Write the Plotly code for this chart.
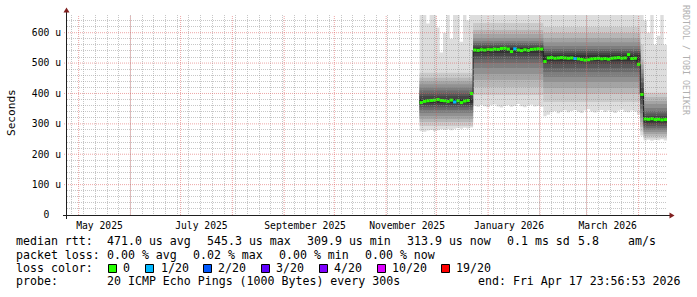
import pandas as pd
import plotly.graph_objects as go

# ---------------- data (in microseconds) ----------------
first_step = "2025-11-21"
step_days = 2

median_us = [370, 374, 376, 377, 378, 380, 377, 376, 374, 378, 372, 376, 370, 375, 377, 400,
             543, 542, 544, 543, 545, 544, 546, 545, 548, 549, 546, 538, 547, 543, 541, 544, 542, 545, 546, 547, 546,
             505, 517, 518, 516, 517, 518, 517, 516, 517, 515, 514, 512, 510, 511, 514, 515, 516, 514, 515, 513,
             516, 517, 518, 516, 517, 528, 515, 516, 496,
             397,
             316, 315, 317, 314, 315, 313, 314]

loss_count = [0, 0, 0, 0, 0, 0, 0, 0, 0, 0, 1, 0, 0, 0, 0, 0,
              0, 0, 0, 0, 0, 0, 0, 0, 0, 0, 0, 0, 1, 0, 0, 0, 0, 0, 0, 0, 0,
              0, 0, 0, 0, 0, 0, 0, 0, 0, 1, 0, 0, 0, 0, 0, 0, 0, 0, 0, 0,
              0, 0, 0, 0, 0, 0, 0, 0, 0,
              0,
              0, 0, 0, 0, 0, 0, 0]

low_us = [276, 274, 278, 280, 276, 279, 282, 280, 283, 279, 284, 286, 284, 287, 285, 288,
          360, 356, 362, 358, 355, 361, 364, 357, 354, 359, 362, 356, 360, 365, 358, 355, 361, 363, 357, 360, 356,
          325, 330, 338, 342, 335, 340, 345, 338, 342, 346, 340, 336, 344, 348, 341, 337, 343, 346, 339, 344,
          341, 336, 343, 347, 340, 338, 344, 341, 330,
          262,
          245, 248, 244, 247, 246, 249, 245]

high_us = [700, 700, 630, 700, 700, 617, 535, 600, 700, 580, 700, 700, 570, 700, 640, 700,
           700, 700, 700, 700, 700, 700, 700, 700, 700, 700, 700, 700, 700, 700, 700, 700, 700, 700, 700, 700, 700,
           700, 700, 700, 700, 700, 700, 700, 700, 700, 700, 700, 700, 700, 700, 700, 700, 700, 700, 700, 700,
           700, 700, 700, 700, 700, 700, 700, 700, 700,
           700,
           640, 600, 700, 560, 590, 700, 560]

segment_id = list("aaaaaaaaaaaaaaaa"
                  "bbbbbbbbbbbbbbbbbbbbb"
                  "ccccccccccccccccccccccccccccc"
                  "d"
                  "eeeeeee")

# ping ranks 2..19 for each regime
profile_a = [293, 306, 316, 326, 336, 346, 355, 362, 369, 382, 392, 400, 410, 420, 430, 440, 452, 468]
profile_b = [395, 421, 444, 464, 484, 500, 513, 523, 533, 550, 555, 560, 566, 573, 583, 596, 609, 632]
profile_c = [372, 398, 418, 438, 454, 471, 484, 497, 507, 527, 533, 540, 546, 556, 569, 583, 599, 619]
profile_d = [275, 290, 305, 320, 335, 350, 365, 378, 390, 405, 420, 435, 450, 465, 480, 495, 512, 560]
profile_e = [253, 260, 267, 273, 280, 286, 293, 300, 305, 318, 326, 334, 342, 352, 365, 375, 388, 402]

month_labels = ["May 2025", "July 2025", "September 2025", "November 2025", "January 2026", "March 2026"]
month_label_starts = ["2025-05-01", "2025-07-01", "2025-09-01", "2025-11-01", "2026-01-01", "2026-03-01"]
y_tick_values = [0, 100, 200, 300, 400, 500, 600]
y_tick_labels = ["0\u00a0\u00a0", "100 u", "200 u", "300 u", "400 u", "500 u", "600 u"]

rtt_items = ["471.0 us avg", "545.3 us max", "309.9 us min", "313.9 us now", "0.1 ms sd", "5.8", "am/s"]
loss_items = ["0.00 % avg", "0.02 % max", "0.00 % min", "0.00 % now"]
loss_levels = ["0", "1/20", "2/20", "3/20", "4/20", "10/20", "19/20"]
loss_level_colors = ["#26ff00", "#00b8ff", "#0059ff", "#5e00ff", "#7e00ff", "#dd00ff", "#ff0000"]
probe_text = "20 ICMP Echo Pings (1000 Bytes) every 300s"
end_text = "end: Fri Apr 17 23:56:53 2026"

# ---------------- geometry ----------------
W, H = 697, 297
L, R, T, B = 67, 30, 15, 82
PW, PH = W - L - R, H - T - B
Y_MAX = 658.3
X_RANGE = ["2025-04-24 01:30:00", "2026-04-18 00:00:00"]
MONO = "DejaVu Sans Mono"


def px(x):
    return (x - L) / PW


def py(y):
    return (T + PH - y) / PH


# ---------------- build ----------------
t0 = pd.Timestamp(first_step)
n = len(median_us)
edges = [t0 + pd.Timedelta(days=step_days * k) for k in range(n + 1)]
profiles = {"a": profile_a, "b": profile_b, "c": profile_c, "d": profile_d, "e": profile_e}
pings = [[low_us[k]] + profiles[segment_id[k]] + [high_us[k]] for k in range(n)]

fig = go.Figure()

# smoke: nested bands between ping ranks (outer light -> inner dark)
for b in range(10):
    shade = int(190 / 10 * (10 - (b + 1))) + 50
    col = f"rgb({shade},{shade},{shade})"
    lo = [row[b] for row in pings]
    hi = [row[19 - b] for row in pings]
    fig.add_trace(go.Scatter(x=edges, y=lo + [lo[-1]], mode="lines",
                             line=dict(width=0, shape="hv"), hoverinfo="skip", showlegend=False))
    fig.add_trace(go.Scatter(x=edges, y=hi + [hi[-1]], mode="lines",
                             line=dict(width=0, shape="hv"), fill="tonexty", fillcolor=col,
                             hoverinfo="skip", showlegend=False))

# thin dark median line
fig.add_trace(go.Scatter(x=edges, y=median_us + [median_us[-1]], mode="lines",
                         line=dict(width=1, shape="hv", color="#202020"),
                         hoverinfo="skip", showlegend=False))

# coloured median band by loss
for lc in sorted(set(loss_count)):
    xs, ys = [], []
    for k in range(n):
        if loss_count[k] == lc:
            xs += [edges[k], edges[k + 1], None]
            ys += [median_us[k], median_us[k], None]
    fig.add_trace(go.Scatter(x=xs, y=ys, mode="lines", connectgaps=False,
                             line=dict(width=3, color=loss_level_colors[lc]),
                             hoverinfo="skip", showlegend=False))

# minor grid: overlay subplot drawn above the data (as rrdtool does)
GRID = "rgba(143,143,143,0.5)"
MGRID = "rgba(222,79,79,0.5)"
sundays = [d.strftime("%Y-%m-%d") for d in pd.date_range("2025-04-27", "2026-04-18", freq="7D")]
month_starts = [d.strftime("%Y-%m-%d") for d in pd.date_range("2025-05-01", "2026-04-01", freq="MS")]
minor_y = [v for v in range(20, 660, 20) if v % 100 != 0]
major_y = [100, 200, 300, 400, 500, 600]

fig.add_trace(go.Scatter(x=[X_RANGE[0]], y=[-50], mode="markers", marker=dict(opacity=0),
                         xaxis="x2", yaxis="y2", showlegend=False, hoverinfo="skip"))

label_pos = [(pd.Timestamp(d) + pd.Timedelta(hours=300)).strftime("%Y-%m-%d %H:%M:%S")
             for d in month_label_starts]

fig.update_layout(
    width=W, height=H,
    margin=dict(l=L, r=R, t=T, b=B, pad=0),
    paper_bgcolor="#ffffff", plot_bgcolor="rgba(0,0,0,0)",
    showlegend=False,
    xaxis=dict(type="date", range=X_RANGE, domain=[0, 1], anchor="y", showgrid=False, zeroline=False,
               showline=False, tickmode="array", tickvals=label_pos, ticktext=month_labels,
               ticks="", ticklabelstandoff=3,
               tickfont=dict(family=MONO, size=9.7, color="#000000")),
    yaxis=dict(range=[0, Y_MAX], domain=[0, 1], anchor="x", showgrid=False, zeroline=False,
               showline=False, tickmode="array", tickvals=y_tick_values, ticktext=y_tick_labels,
               ticks="", ticklabelstandoff=5,
               tickfont=dict(family=MONO, size=9.7, color="#000000")),
    xaxis2=dict(type="date", range=X_RANGE, domain=[0, 1], anchor="y2",
                showgrid=True, zeroline=False, showline=False, tickmode="array",
                tickvals=sundays, showticklabels=False, ticks="", gridcolor=GRID,
                griddash="1px,1px", gridwidth=1),
    yaxis2=dict(type="linear", range=[0, Y_MAX], domain=[0, 1], anchor="x2",
                showgrid=True, zeroline=False, showline=False, tickmode="array",
                tickvals=minor_y, showticklabels=False, ticks="", gridcolor=GRID,
                griddash="1px,1px", gridwidth=1),
)

AXIS = "#1f1f1f"
ARROW = "rgb(128,31,31)"
shapes = []
# major grid (months / 100 u) on top of everything
for m in month_starts:
    shapes.append(dict(type="line", xref="x", yref="paper", x0=m, x1=m, y0=0, y1=1, layer="above",
                       line=dict(color=MGRID, width=1, dash="1px,1px")))
for v in major_y:
    shapes.append(dict(type="line", xref="paper", yref="y", x0=-0.005, x1=1, y0=v, y1=v, layer="above",
                       line=dict(color=MGRID, width=1, dash="1px,1px")))

shapes += [
    dict(type="line", xref="paper", yref="paper", x0=px(63), x1=px(670), y0=py(215.5), y1=py(215.5),
         line=dict(color=AXIS, width=1), layer="above"),
    dict(type="line", xref="paper", yref="paper", x0=px(66.5), x1=px(66.5), y0=py(219), y1=py(12),
         line=dict(color=AXIS, width=1), layer="above"),
    dict(type="path", xref="paper", yref="paper", layer="above",
         path=f"M {px(674.5)} {py(215.5)} L {px(669.5)} {py(212.5)} L {px(669.5)} {py(218.5)} Z",
         fillcolor=ARROW, line=dict(width=0)),
    dict(type="path", xref="paper", yref="paper", layer="above",
         path=f"M {px(66.5)} {py(7.5)} L {px(63.5)} {py(12.5)} L {px(69.5)} {py(12.5)} Z",
         fillcolor=ARROW, line=dict(width=0)),
]

annotations = []


def text(x, y, s, size=11.6, color="#000000", angle=0, xanchor="left"):
    annotations.append(dict(x=px(x), y=py(y), xref="paper", yref="paper", text=s,
                            showarrow=False, xanchor=xanchor, yanchor="middle",
                            textangle=angle, borderpad=0, borderwidth=0,
                            font=dict(family=MONO, size=size, color=color)))


ROW1, ROW2, ROW3, ROW4 = 241.0, 254.6, 268.3, 281.0
text(15.5, ROW1, "median rtt:")
for s, x in zip(rtt_items, [107, 207, 307, 407, 506.5, 577.5, 628]):
    text(x, ROW1, s)
text(15.5, ROW2, "packet loss:")
for s, x in zip(loss_items, [107, 193, 279, 365]):
    text(x, ROW2, s)
text(15.5, ROW3, "loss color:")
for s, c, bx, tx in zip(loss_levels, loss_level_colors,
                        [108.5, 145.5, 203.5, 261.5, 319.5, 377.5, 441.5],
                        [123, 160.5, 218, 275.5, 334, 391.5, 455.5]):
    shapes.append(dict(type="rect", xref="paper", yref="paper", layer="above",
                       x0=px(bx), x1=px(bx + 8), y0=py(264.5), y1=py(272.5),
                       fillcolor=c, line=dict(color="#000000", width=1)))
    text(tx, ROW3, s)
text(15.5, ROW4, "probe:")
text(107, ROW4, probe_text)
text(478, ROW4, end_text)

text(11, 113, "Seconds", size=11.1, angle=-90, xanchor="center")
text(686, 60, "RRDTOOL / TOBI OETIKER", size=8.3, color="#b0b0b0", angle=90, xanchor="center")

fig.update_layout(shapes=shapes, annotations=annotations)
fig.write_html("out.html")
